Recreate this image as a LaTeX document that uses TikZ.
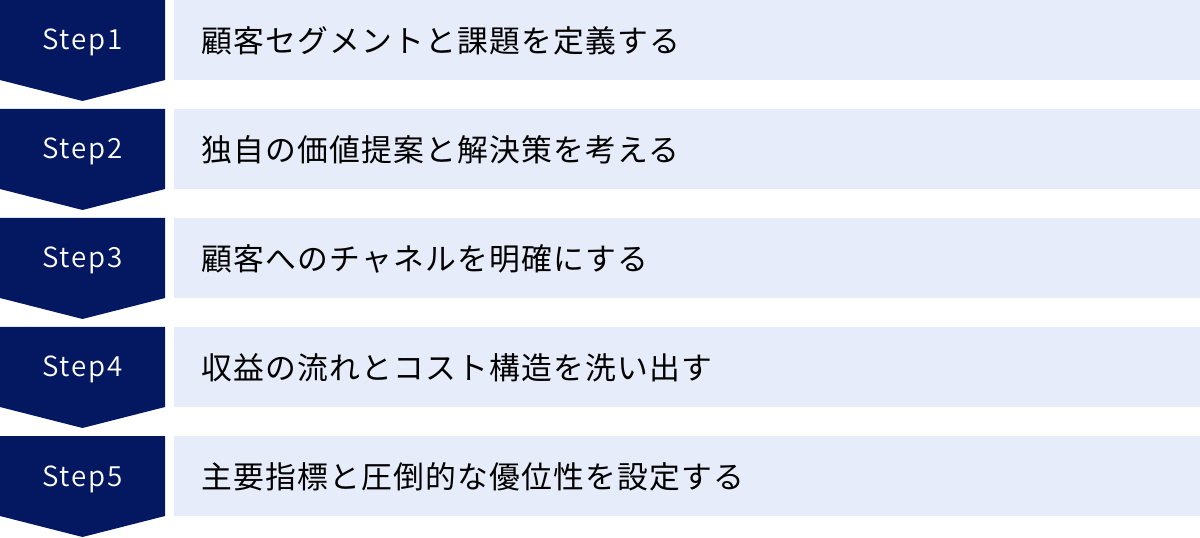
\documentclass[tikz,border=0pt]{standalone}
\usepackage{fontspec}
\newfontfamily\jp[LetterSpace=4]{Noto Sans CJK JP}
\newfontfamily\stepfont[LetterSpace=7]{Noto Sans CJK JP DemiLight}
\definecolor{navy}{HTML}{041862}
\definecolor{pale}{HTML}{E6ECF9}
\tikzset{
  chev/.style={fill=navy},
  band/.style={fill=pale},
  steplabel/.style={text=white,font=\stepfont\fontsize{20.8pt}{22pt}\selectfont,anchor=base,inner sep=0pt},
  desc/.style={text=black,font=\jp\fontsize{23.1pt}{25pt}\selectfont,anchor=base west,inner sep=0pt}
}
\begin{document}
\begin{tikzpicture}[x=0.75pt,y=-0.75pt]
\useasboundingbox[fill=white] (0,0) rectangle (1200,538);
\foreach \i/\t in {1/顧客セグメントと課題を定義する,2/独自の価値提案と解決策を考える,3/顧客へのチャネルを明確にする,4/収益の流れとコスト構造を洗い出す,5/主要指標と圧倒的な優位性を設定する}{
  \pgfmathsetmacro\top{(\i-1)*109}
  \fill[band] (174,\top) rectangle (1200,\top+80);
  \fill[chev] (0,\top) -- (165,\top) -- (165,\top+80) -- (82.5,\top+101) -- (0,\top+80) -- cycle;
  \node[steplabel] (s\i) at (82.5,\top+50) {Step\i};
  \node[desc] (d\i) at (201,\top+52.5) {\t};
}
\end{tikzpicture}
\end{document}
